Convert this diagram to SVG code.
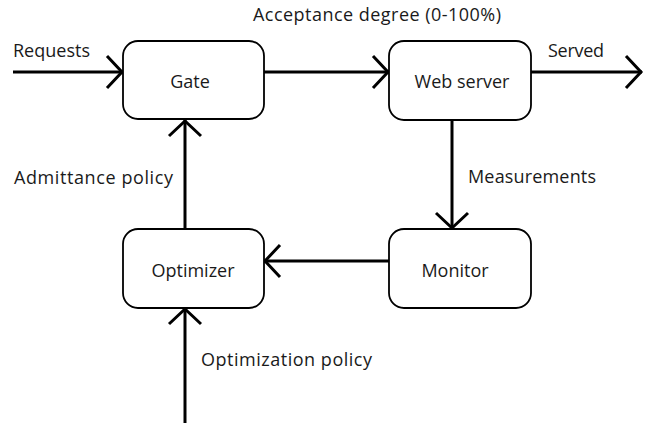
<svg xmlns="http://www.w3.org/2000/svg" width="650" height="423" viewBox="0 0 650 423">
<defs>
<marker id="arr" markerUnits="userSpaceOnUse" markerWidth="40" markerHeight="40" viewBox="-20 -20 40 40" refX="0" refY="0" orient="auto" overflow="visible">
<path d="M -16 -16 L -1 0 L -16 16" fill="none" stroke="#000" stroke-width="3"/>
</marker>
</defs>
<style>
.box{fill:#fff;stroke:#000;stroke-width:1.8}
.lbl{font-family:"Open Sans","Noto Sans",sans-serif;font-size:18px;fill:#1a1a1a}
.ctr{text-anchor:middle}
.line{fill:none;stroke:#000;stroke-width:3;marker-end:url(#arr)}
</style>
<rect width="650" height="423" fill="#fff"/>
<g id="connectors">
<line class="line" x1="13" y1="72" x2="123" y2="72"/>
<line class="line" x1="264" y1="72" x2="389" y2="72"/>
<line class="line" x1="531" y1="72" x2="642" y2="72"/>
<line class="line" x1="452" y1="120" x2="452" y2="229"/>
<line class="line" x1="389" y1="261" x2="264" y2="261"/>
<line class="line" x1="185" y1="229" x2="185" y2="120"/>
<line class="line" x1="185" y1="423" x2="185" y2="308"/>
<text class="lbl" x="253" y="21" textLength="248">Acceptance degree (0-100%)</text>
<text class="lbl" x="13" y="57" textLength="77">Requests</text>
<text class="lbl" x="548" y="57" textLength="56">Served</text>
<text class="lbl" x="14" y="184" textLength="159">Admittance policy</text>
<text class="lbl" x="468" y="183" textLength="128">Measurements</text>
<text class="lbl" x="201" y="366" textLength="171">Optimization policy</text>
</g>
<g id="gate">
<rect class="box" x="123" y="41" width="141" height="78" rx="15"/>
<text class="lbl ctr" x="190" y="88">Gate</text>
</g>
<g id="webserver">
<rect class="box" x="389" y="41" width="142" height="79" rx="15"/>
<text class="lbl ctr" x="462" y="88">Web server</text>
</g>
<g id="optimizer">
<rect class="box" x="123" y="229" width="141" height="79" rx="15"/>
<text class="lbl ctr" x="193" y="277">Optimizer</text>
</g>
<g id="monitor">
<rect class="box" x="389" y="229" width="142" height="79" rx="15"/>
<text class="lbl ctr" x="455" y="277">Monitor</text>
</g>
</svg>
